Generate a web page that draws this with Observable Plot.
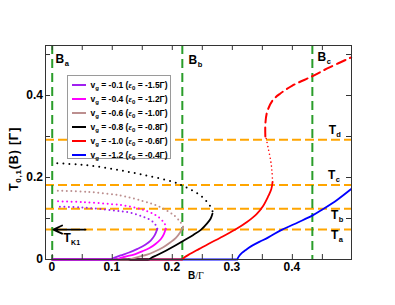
<!DOCTYPE html>
<html><head><meta charset="utf-8">
<script src="https://cdn.jsdelivr.net/npm/d3@7"></script>
<script src="https://cdn.jsdelivr.net/npm/@observablehq/plot@0.6"></script>
<style>
body{margin:0;background:#fff;}
#chart{position:relative;width:395px;height:305px;}
.legend{position:absolute;left:66.5px;top:74.5px;width:104px;height:84px;background:#fff;border:1px solid #9a9a9a;box-sizing:border-box;font-family:"Liberation Sans",Arial,sans-serif;font-weight:bold;font-size:8.5px;color:#000;}
.row{position:absolute;left:0;height:10px;line-height:10px;white-space:nowrap;}
.swatch{position:absolute;left:4.5px;top:4px;width:14px;height:2px;}
.lbl{position:absolute;left:23px;top:0;}
.sb{font-size:6px;position:relative;top:2px;}
</style></head>
<body><div id="chart"></div>
<script>
// ---------- data ----------
const vg = ["-0.1", "-0.4", "-0.6", "-0.8", "-1.0", "-1.2"];
const eps0 = ["-1.5", "-1.2", "-1.0", "-0.8", "-0.6", "-0.4"];
const colors = ["#a020f0", "#ff00ff", "#bc8f8f", "#000000", "#ff0000", "#0000ff"];
const onsetB = [0.097, 0.108, 0.128, 0.161, 0.217, 0.308];

const solidPurple = [[0.097,0],[0.103,0.004],[0.114,0.01],[0.128,0.017],[0.142,0.026],[0.155,0.036],[0.164,0.046],[0.171,0.06],[0.175,0.075]];
const solidMagenta = [[0.108,0],[0.114,0.004],[0.125,0.008],[0.136,0.012],[0.15,0.02],[0.162,0.028],[0.172,0.038],[0.181,0.05],[0.186,0.062],[0.189,0.075]];
const solidRosy = [[0.128,0],[0.135,0.003],[0.145,0.007],[0.158,0.012],[0.17,0.019],[0.185,0.03],[0.197,0.042],[0.206,0.053],[0.213,0.066],[0.218,0.08]];
const solidBlack = [[0.161,0],[0.166,0.005],[0.175,0.011],[0.19,0.022],[0.205,0.034],[0.22,0.047],[0.235,0.06],[0.248,0.073],[0.258,0.088],[0.264,0.1],[0.267,0.112]];
const solidRed = [[0.217,0],[0.221,0.006],[0.23,0.014],[0.245,0.026],[0.26,0.038],[0.28,0.053],[0.305,0.073],[0.325,0.092],[0.34,0.11],[0.351,0.13],[0.36,0.155],[0.365,0.172],[0.367,0.189]];
const solidBlue = [[0.308,0],[0.311,0.008],[0.316,0.016],[0.323,0.024],[0.331,0.032],[0.345,0.043],[0.36,0.054],[0.383,0.073],[0.41,0.091],[0.433,0.107],[0.45,0.122],[0.475,0.146],[0.498,0.172]];

const dotPurple = [[0.175,0.075],[0.172,0.085],[0.165,0.095],[0.15,0.105],[0.127,0.115],[0.1,0.12],[0.05,0.127],[0.008,0.129]];
const dotMagenta = [[0.189,0.075],[0.188,0.085],[0.182,0.097],[0.17,0.11],[0.15,0.122],[0.127,0.13],[0.1,0.135],[0.05,0.14],[0.008,0.142]];
const dotRosy = [[0.218,0.08],[0.214,0.09],[0.205,0.105],[0.19,0.12],[0.17,0.134],[0.15,0.143],[0.114,0.156],[0.06,0.165],[0.008,0.168]];
const dotBlack = [[0.267,0.118],[0.264,0.128],[0.258,0.14],[0.248,0.155],[0.235,0.167],[0.217,0.18],[0.2,0.19],[0.15,0.207],[0.1,0.221],[0.05,0.231],[0,0.235]];
const dotRed = [[0.367,0.189],[0.366,0.215],[0.364,0.24],[0.36,0.27],[0.356,0.298]];
const dashRed = [[0.355,0.30],[0.355,0.33],[0.358,0.36],[0.367,0.388],[0.38,0.405],[0.40,0.424],[0.433,0.447],[0.461,0.468],[0.498,0.493]];

const Bcrit = [0, 0.2167, 0.4333];
const Tlevels = [0.073, 0.124, 0.182, 0.292];
const Blabels = [{B:0.0055,T:0.479,s:"a"},{B:0.227,T:0.478,s:"b"},{B:0.4417,T:0.485,s:"c"}];
const Tlabels = [{B:0.4605,T:0.3066,s:"d"},{B:0.4595,T:0.197,s:"c"},{B:0.4645,T:0.0993,s:"b"},{B:0.4645,T:0.0488,s:"a"}];
const TK1 = {from:0.0555, to:0.002, T:0.073, labelB:0.0188, labelT:0.042};

const xTickLabels = [0, 0.1, 0.2, 0.3, 0.4];
const xTicks = [0, 0.05, 0.1, 0.15, 0.2, 0.25, 0.3, 0.35, 0.4, 0.45];
const yTickLabels = [0, 0.2, 0.4];
const yTicks = [0, 0.1, 0.2, 0.3, 0.4, 0.5];

// ---------- build ----------
const solids = [solidPurple, solidMagenta, solidRosy, solidBlack, solidRed, solidBlue];
const dots = [dotPurple, dotMagenta, dotRosy, dotBlack];
const rows = (arr, i) => arr.map(([B, T]) => ({B, T, i}));
const solidRows = solids.flatMap(rows);
const baseRows = onsetB.map((b, i) => ({b, i})).reverse();

const W = 395, H = 305, mL = 45, mR = 44, mT = 45, mB = 46;
const pw = W - mL - mR, ph = H - mT - mB;
const fmt = d => d === 0 ? "0" : d3.format(".1f")(d);
const dotStyle = [ "0,4.5", "0,4.5", "0,4.5", "0,6" ];
const FONT = "'Liberation Sans', Arial, sans-serif";

const marks = [
  Plot.ruleY(Tlevels, {y: d => d, stroke: "#ffa500", strokeWidth: 2, strokeDasharray: "9,4"}),
  Plot.ruleX(Bcrit, {x: d => d, stroke: "#2a9d2a", strokeWidth: 2, strokeDasharray: "9,5"}),
  Plot.ruleY(baseRows, {y: d => 0, x1: d => 0, x2: "b", stroke: d => colors[d.i], strokeWidth: 2}),
  ...dots.map((a, i) => Plot.line(rows(a, i), {x: "B", y: "T", stroke: colors[i], strokeWidth: 2, strokeLinecap: "round", strokeDasharray: dotStyle[i], curve: "catmull-rom"})),
  Plot.line(rows(dotRed, 4), {x: "B", y: "T", stroke: colors[4], strokeWidth: 1.6, strokeLinecap: "round", strokeDasharray: "0,4", curve: "catmull-rom"}),
  Plot.line(rows(dashRed, 4), {x: "B", y: "T", stroke: colors[4], strokeWidth: 2, strokeDasharray: "9,5", curve: "catmull-rom"}),
  Plot.line(solidRows, {x: "B", y: "T", z: "i", stroke: d => colors[d.i], strokeWidth: 1.8, curve: "catmull-rom"}),
  Plot.arrow([TK1], {x1: "from", x2: "to", y1: "T", y2: "T", stroke: "#000", strokeWidth: 1.8, headLength: 8, headAngle: 50}),
  // labels
  Plot.text(Blabels, {x: "B", y: "T", text: d => "B", textAnchor: "start", lineAnchor: "bottom", fontSize: 12, fontWeight: "bold"}),
  Plot.text(Blabels, {x: "B", y: "T", text: "s", textAnchor: "start", lineAnchor: "bottom", fontSize: 7.5, fontWeight: "bold", dx: 9.3, dy: 3}),
  Plot.text(Tlabels, {x: "B", y: "T", text: d => "T", textAnchor: "start", lineAnchor: "bottom", fontSize: 12, fontWeight: "bold"}),
  Plot.text(Tlabels, {x: "B", y: "T", text: "s", textAnchor: "start", lineAnchor: "bottom", fontSize: 7.5, fontWeight: "bold", dx: 7.6, dy: 3}),
  Plot.text([TK1], {x: "labelB", y: "labelT", text: d => "T", textAnchor: "start", lineAnchor: "bottom", fontSize: 12, fontWeight: "bold"}),
  Plot.text([TK1], {x: "labelB", y: "labelT", text: d => "K1", textAnchor: "start", lineAnchor: "bottom", fontSize: 7, fontWeight: "bold", dx: 7.6, dy: 3}),
  // frame ticks (inward)
  Plot.ruleX(xTicks, {x: d => d, insetTop: ph - 5, stroke: "#333"}),
  Plot.ruleX(xTicks, {x: d => d, insetBottom: ph - 5, stroke: "#333"}),
  Plot.ruleY(yTicks, {y: d => d, insetRight: pw - 5, stroke: "#333"}),
  Plot.ruleY(yTicks, {y: d => d, insetLeft: pw - 5, stroke: "#333"}),
  Plot.frame({stroke: "#333", strokeWidth: 1})
];

const plot = Plot.plot({
  width: W, height: H,
  marginLeft: mL, marginRight: mR, marginTop: mT, marginBottom: mB,
  x: {domain: [-0.0112, 0.4985], axis: null},
  y: {domain: [0, 0.522], axis: null},
  style: {fontFamily: FONT, fontSize: "12px", fontWeight: "bold", color: "#000", background: "#fff"},
  marks
});

const sx = plot.scale("x"), sy = plot.scale("y");
const svg = d3.select(plot);
// tick labels through the plot's scales
const gx = svg.append("g").attr("fill", "#000").style("font-family", FONT).style("font-size", "12px").style("font-weight", "bold").attr("text-anchor", "middle");
xTickLabels.forEach(v => gx.append("text").attr("x", sx.apply(v)).attr("y", H - mB + 12).text(fmt(v)));
const gy = svg.append("g").attr("fill", "#000").style("font-family", FONT).style("font-size", "12px").style("font-weight", "bold").attr("text-anchor", "end");
yTickLabels.forEach(v => gy.append("text").attr("x", mL - 2).attr("y", sy.apply(v) + 4.3).text(fmt(v)));

// y-axis title
const yl = svg.append("text")
  .attr("transform", "translate(18.3,159) rotate(-90)")
  .attr("text-anchor", "middle")
  .attr("fill", "#000")
  .style("font-family", FONT)
  .style("font-size", "12.5px").style("font-weight", "bold").style("letter-spacing", "0.8px");
yl.append("tspan").text("T");
yl.append("tspan").attr("dy", 3).style("font-size", "8px").text("0,1");
yl.append("tspan").attr("dy", -3).text("(B) [Γ]");
// x-axis title
const xl = svg.append("text")
  .attr("x", 196).attr("y", 278.5)
  .attr("text-anchor", "middle")
  .attr("fill", "#000")
  .style("font-size", "10px");
xl.append("tspan").style("font-family", FONT).style("font-weight", "bold").text("B");
xl.append("tspan").style("font-family", "'Liberation Serif', 'Times New Roman', serif").style("font-weight", "normal").text("/Γ");

const chart = document.getElementById("chart");
chart.appendChild(plot);

// legend
const lg = document.createElement("div");
lg.className = "legend";
vg.forEach((v, i) => {
  const r = document.createElement("div");
  r.className = "row";
  r.style.top = (4 + i * 14) + "px";
  r.style.width = "100%";
  r.innerHTML = `<span class="swatch" style="background:${colors[i]}"></span><span class="lbl">v<span class="sb">g</span> = ${v} (<i style="font-family:'Liberation Serif',serif">ε</i><span class="sb">0</span> = ${eps0[i]}Γ)</span>`;
  lg.appendChild(r);
});
chart.appendChild(lg);
</script>
</body></html>
